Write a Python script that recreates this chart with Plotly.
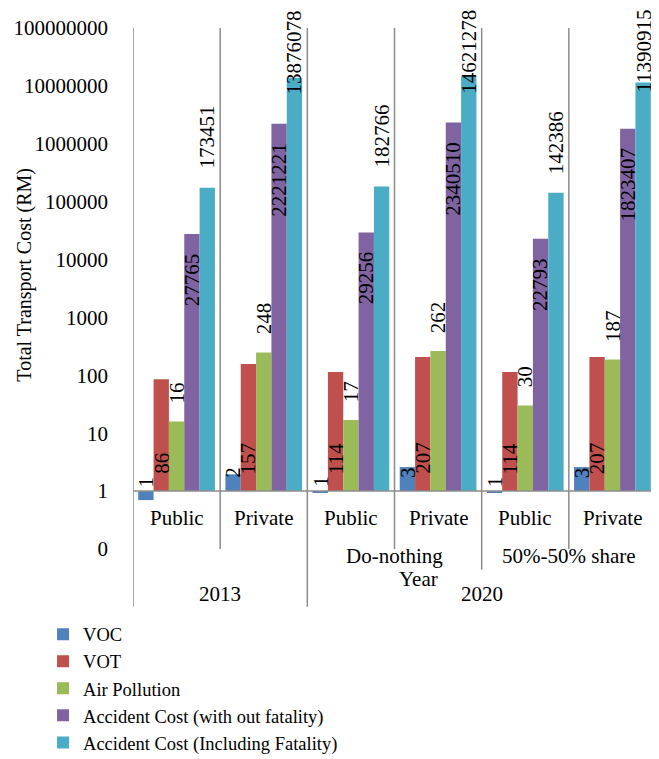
import math
import plotly.graph_objects as go

# ---- data ----
modes = ["Public", "Private", "Public", "Private", "Public", "Private"]
scenarios = ["", "", "Do-nothing", "Do-nothing", "50%-50% share", "50%-50% share"]
years = ["2013", "2013", "2020", "2020", "2020", "2020"]

series_names = ["VOC", "VOT", "Air Pollution",
                "Accident Cost (with out fatality)",
                "Accident Cost (Including Fatality)"]
voc = [0.7, 1.95, 0.96, 2.6, 0.95, 2.6]
vot = [86, 157, 114, 207, 114, 207]
air = [16, 248, 17, 262, 30, 187]
acc_wo = [27765, 2221221, 29256, 2340510, 22793, 1823407]
acc_incl = [173451, 13876078, 182766, 14621278, 142386, 11390915]

y_tickvals = [0.1, 1, 10, 100, 1000, 10000, 100000, 1000000, 10000000, 100000000]
y_ticktext = ["0", "1", "10", "100", "1000", "10000", "100000", "1000000",
              "10000000", "100000000"]

colors = ["#4F81BD", "#C0504D", "#9BBB59", "#8064A2", "#4BACC6"]
FONT = "Liberation Serif, Times New Roman, serif"
LINE = "#8C8C8C"

all_series = [voc, vot, air, acc_wo, acc_incl]
BASE = 1.0
BARGAP = 0.12
n = len(all_series)
bw = (1 - BARGAP) / n

fig = go.Figure()
xs = list(range(len(modes)))
for i, (name, vals) in enumerate(zip(series_names, all_series)):
    fig.add_trace(go.Bar(
        x=xs, y=[v - BASE for v in vals], base=BASE, name=name,
        marker=dict(color=colors[i], line=dict(width=0)),
        legendgroup=name,
    ))

L = math.log10  # annotations on a log axis are positioned in log units
ann = []
lab_font = dict(family=FONT, size=21, color="black")
for i, vals in enumerate(all_series):
    for g, v in enumerate(vals):
        xc = g + (i - (n - 1) / 2) * bw
        txt = str(int(round(v)))
        a = dict(x=xc, xref="x", yref="y", text=txt, textangle=-90,
                 showarrow=False, font=lab_font, xanchor="center")
        if i == 0:      # VOC: label sits on the base line
            a.update(y=L(BASE), yanchor="bottom", yshift=2 if v < BASE else 11)
        elif i == 1:    # VOT: label near base
            a.update(y=L(BASE), yanchor="bottom", yshift=15)
        elif i == 2:    # Air: outside end
            a.update(y=L(v), yanchor="bottom", yshift=16)
        elif i == 3:    # Accident w/o fatality: inside end
            a.update(y=L(v), yanchor="top", yshift=-17)
        else:           # Accident incl fatality: outside end, clamped at top
            if v > 5e6:
                a.update(yref="paper", y=1, yanchor="top", yshift=20)
            else:
                a.update(y=L(v), yanchor="bottom", yshift=17)
        ann.append(a)

cat_font = dict(family=FONT, size=21, color="black")
for g, m in enumerate(modes):
    ann.append(dict(x=g, xref="x", y=0.06, yref="paper", text=m, showarrow=False,
                    font=cat_font, xanchor="center", yanchor="middle"))

# scenario labels (second level)
seen = []
for g, s in enumerate(scenarios):
    if s and s not in seen:
        seen.append(s)
        idx = [k for k, t in enumerate(scenarios) if t == s]
        ann.append(dict(x=sum(idx) / len(idx), xref="x", y=-0.013, yref="paper",
                        text=s, showarrow=False, font=cat_font,
                        xanchor="center", yanchor="middle"))
# year labels (third level)
seen = []
for y in years:
    if y not in seen:
        seen.append(y)
        idx = [k for k, t in enumerate(years) if t == y]
        ann.append(dict(x=sum(idx) / len(idx), xref="x", y=-0.087, yref="paper",
                        text=y, showarrow=False, font=cat_font,
                        xanchor="center", yanchor="middle"))

# axis titles
ann.append(dict(x=0.545, xref="paper", y=-0.057, yref="paper", text="Year",
                showarrow=False, font=cat_font, xanchor="center", yanchor="middle"))
ann.append(dict(x=-0.207, xref="paper", y=0.526, yref="paper",
                text="Total Transport Cost (RM)", textangle=-90, showarrow=False,
                font=dict(family=FONT, size=20, color="black"),
                xanchor="center", yanchor="middle"))

shapes = []
# horizontal axis line at the base value
shapes.append(dict(type="line", xref="paper", x0=0, x1=1, yref="y", y0=BASE, y1=BASE,
                   line=dict(color=LINE, width=1.5)))
# vertical separators
ng = len(modes)
for k in range(ng + 1):
    xb = k - 0.5
    if k == 0 or k == ng or years[k - 1] != years[k]:
        yb = -0.111
    elif scenarios[k - 1] != scenarios[k]:
        yb = -0.04
    else:
        yb = 0.0
    shapes.append(dict(type="line", xref="x", x0=xb, x1=xb, yref="paper", y0=1, y1=yb,
                       line=dict(color=LINE, width=1.5)))

# page body adds an 8px offset; figure size and margins compensate
fig.update_layout(
    width=651, height=751,
    margin=dict(l=125, r=3, t=20, b=210, autoexpand=False),
    paper_bgcolor="white", plot_bgcolor="white",
    barmode="group", bargap=BARGAP, bargroupgap=0,
    font=dict(family=FONT, color="black"),
    xaxis=dict(range=[-0.5, 5.5], showticklabels=False, showgrid=False,
               zeroline=False, showline=False, ticks="", automargin=False),
    yaxis=dict(type="log", range=[-1, 8], tickvals=y_tickvals, ticktext=y_ticktext,
               showgrid=False, zeroline=False, showline=False, ticks="",
               tickfont=dict(family=FONT, size=21, color="black"),
               ticklabelstandoff=24, automargin=False),
    legend=dict(x=-0.172, xanchor="left", y=-0.128, yanchor="top",
                font=dict(family=FONT, size=18.5, color="black"),
                tracegroupgap=10, traceorder="normal", bgcolor="rgba(0,0,0,0)"),
    showlegend=True,
    annotations=ann, shapes=shapes,
)

fig.write_html("out.html")
